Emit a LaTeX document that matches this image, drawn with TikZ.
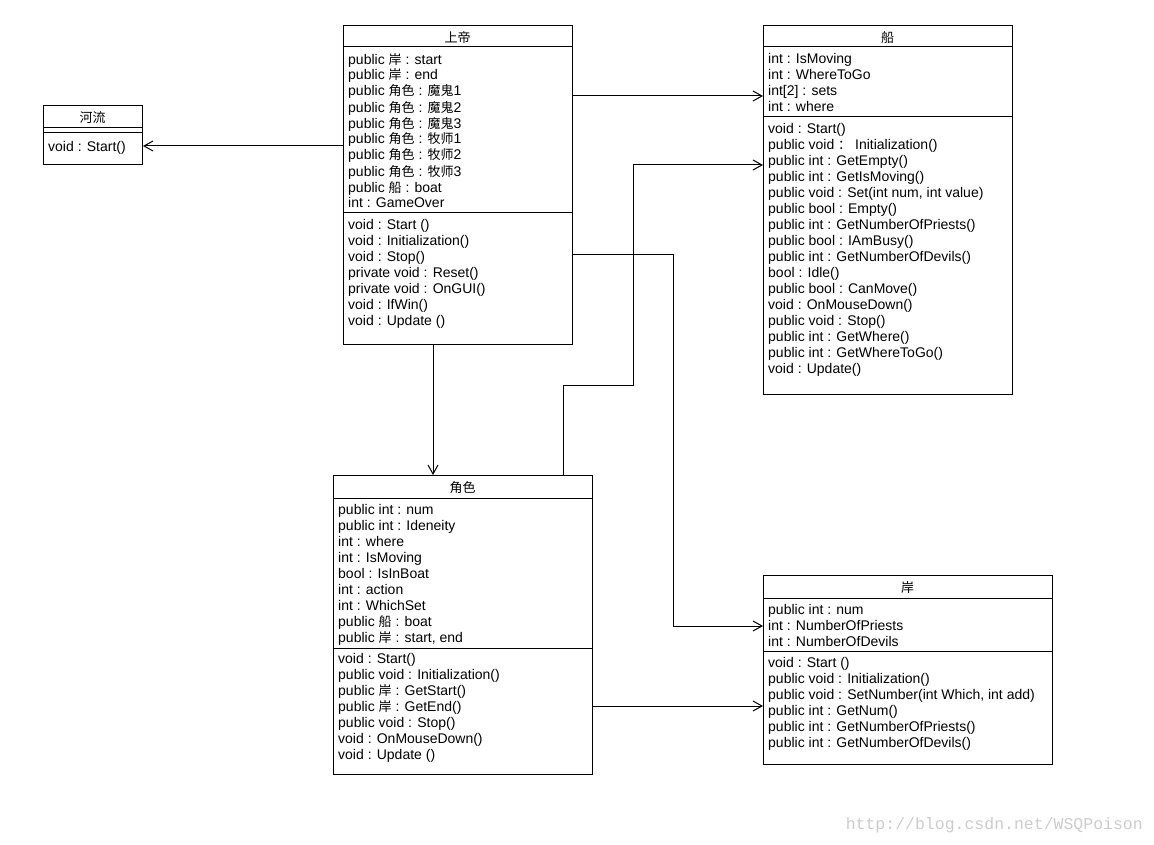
\documentclass[tikz,border=0pt]{standalone}
\usepackage{fontspec}
\setmainfont{Liberation Sans}
\setmonofont{Liberation Mono}
\newfontfamily\cjk{Noto Sans CJK SC}
\newcommand\zhtext[1]{{\cjk\fontsize{13}{16}\selectfont #1}}
\usetikzlibrary{arrows.meta,positioning}

\begin{document}
\begin{tikzpicture}[x=1pt,y=-1pt]
  \tikzset{
    umlbox/.style = {draw, line width=1pt, inner sep=0, anchor=north west},
    classname/.style = {inner sep=0, font=\cjk\fontsize{13}{16}\selectfont},
    % members are placed at the baseline of their last line
    members/.style = {align=left, anchor=base west, inner sep=0, font=\fontsize{14}{16}\selectfont},
    sep/.style = {line width=1pt},
    assoc/.style = {line width=1pt, -{Straight Barb[length=9pt,width=10pt]}}
  }
  \useasboundingbox (0,0) rectangle (1154,845);

  % 河流
  \node[umlbox, minimum width=99, minimum height=59] (river) at (43,105) {};
  \node[classname] (river-name) at (92.5,118) {河流};
  \draw[sep] (river.west |- 0,128) -- (river.east |- 0,128);
  \draw[sep] (river.west |- 0,133) -- (river.east |- 0,133);
  \node[members] (river-ops) at (48,152) {void : Start()};

  % 上帝
  \node[umlbox, minimum width=229, minimum height=319] (god) at (343,25) {};
  \node[classname] (god-name) at (457.5,38) {上帝};
  \draw[sep] (god.west |- 0,47) -- (god.east |- 0,47);
  \node[members] (god-attr) at (348,208) {public \zhtext{岸} : start\\
    public \zhtext{岸} : end\\
    public \zhtext{角色} : \zhtext{魔鬼}1\\
    public \zhtext{角色} : \zhtext{魔鬼}2\\
    public \zhtext{角色} : \zhtext{魔鬼}3\\
    public \zhtext{角色} : \zhtext{牧师}1\\
    public \zhtext{角色} : \zhtext{牧师}2\\
    public \zhtext{角色} : \zhtext{牧师}3\\
    public \zhtext{船} : boat\\
    int : GameOver};
  \draw[sep] (god.west |- 0,213) -- (god.east |- 0,213);
  \node[members] (god-ops) at (348,325) {void : Start ()\\
    void : Initialization()\\
    void : Stop()\\
    private void : Reset()\\
    private void : OnGUI()\\
    void : IfWin()\\
    void : Update ()};

  % 船
  \node[umlbox, minimum width=249, minimum height=369] (boat) at (763,25) {};
  \node[classname] (boat-name) at (887.5,38) {船};
  \draw[sep] (boat.west |- 0,47) -- (boat.east |- 0,47);
  \node[members] (boat-attr) at (768,112) {int : IsMoving\\
    int : WhereToGo\\
    int[2] : sets\\
    int : where};
  \draw[sep] (boat.west |- 0,117) -- (boat.east |- 0,117);
  \node[members] (boat-ops) at (768,373) {void : Start()\\
    public void \zhtext{：} Initialization()\\
    public int : GetEmpty()\\
    public int : GetIsMoving()\\
    public void : Set(int num, int value)\\
    public bool : Empty()\\
    public int : GetNumberOfPriests()\\
    public bool : IAmBusy()\\
    public int : GetNumberOfDevils()\\
    bool : Idle()\\
    public bool : CanMove()\\
    void : OnMouseDown()\\
    public void : Stop()\\
    public int : GetWhere()\\
    public int : GetWhereToGo()\\
    void : Update()};

  % 角色
  \node[umlbox, minimum width=259, minimum height=299] (role) at (333,475) {};
  \node[classname] (role-name) at (462.5,488) {角色};
  \draw[sep] (role.west |- 0,498) -- (role.east |- 0,498);
  \node[members] (role-attr) at (338,642) {public int : num\\
    public int : Ideneity\\
    int : where\\
    int : IsMoving\\
    bool : IsInBoat\\
    int : action\\
    int : WhichSet\\
    public \zhtext{船} : boat\\
    public \zhtext{岸} : start, end};
  \draw[sep] (role.west |- 0,648) -- (role.east |- 0,648);
  \node[members] (role-ops) at (338,759) {void : Start()\\
    public void : Initialization()\\
    public \zhtext{岸} : GetStart()\\
    public \zhtext{岸} : GetEnd()\\
    public void : Stop()\\
    void : OnMouseDown()\\
    void : Update ()};

  % 岸
  \node[umlbox, minimum width=289, minimum height=189] (shore) at (763,575) {};
  \node[classname] (shore-name) at (907.5,588) {岸};
  \draw[sep] (shore.west |- 0,598) -- (shore.east |- 0,598);
  \node[members] (shore-attr) at (768,646) {public int : num\\
    int : NumberOfPriests\\
    int : NumberOfDevils};
  \draw[sep] (shore.west |- 0,651) -- (shore.east |- 0,651);
  \node[members] (shore-ops) at (768,747) {void : Start ()\\
    public void : Initialization()\\
    public void : SetNumber(int Which, int add)\\
    public int : GetNum()\\
    public int : GetNumberOfPriests()\\
    public int : GetNumberOfDevils()};

  % associations
  \draw[assoc] (god.west |- 0,146) -- (river.east |- 0,146);
  \draw[assoc] (god.east |- 0,96) -- (boat.west |- 0,96);
  \draw[assoc] (god.south -| 433,0) -- (role.north -| 433,0);
  \draw[assoc] (god.east |- 0,255) -| (673,626) -- (shore.west |- 0,626);
  \draw[assoc] (role.north -| 563,0) |- (633,385) |- (boat.west |- 0,165);
  \draw[assoc] (role.east |- 0,706) -- (shore.west |- 0,706);

  \node[anchor=east, inner sep=0, text=black!20, font=\ttfamily\fontsize{16.5}{18}\selectfont] (watermark) at (1143,825) {http://blog.csdn.net/WSQPoison};
\end{tikzpicture}
\end{document}
